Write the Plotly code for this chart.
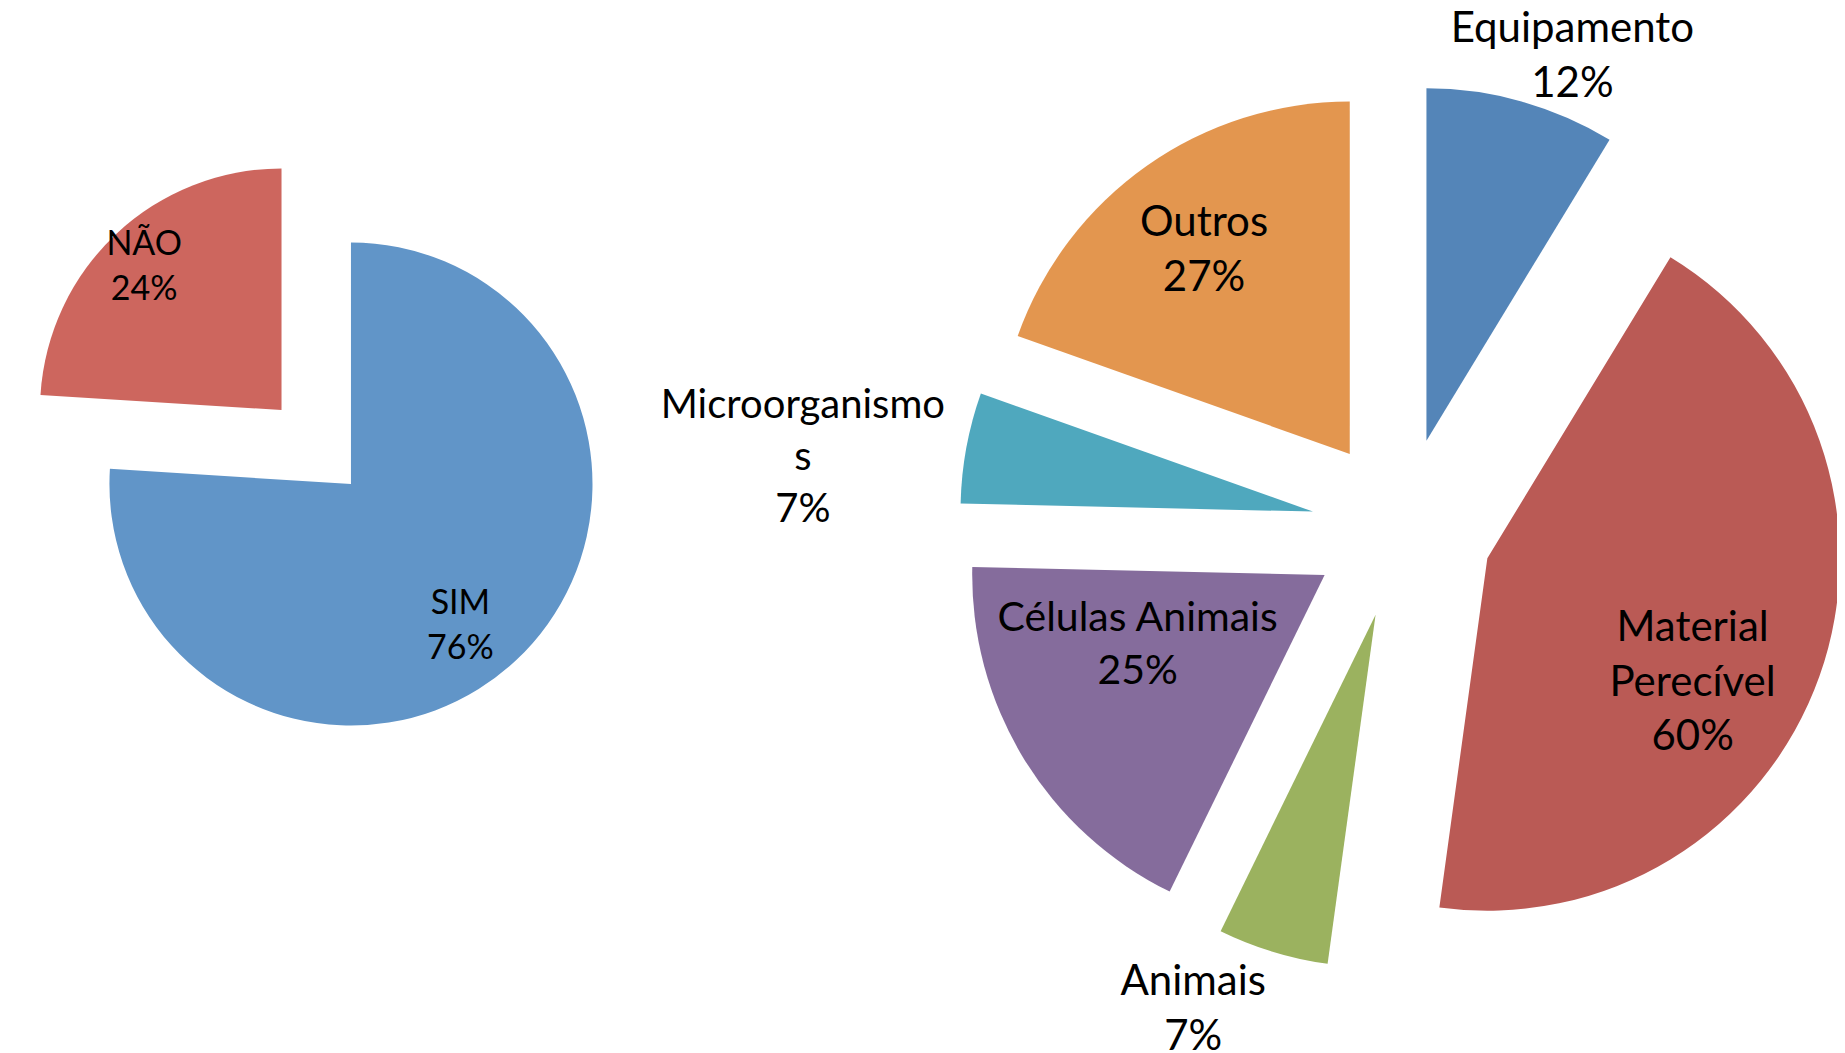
import plotly.graph_objects as go

# left pie
resposta_labels = ["SIM", "NÃO"]
resposta_values = [76, 24]
resposta_colors = ["#6195C8", "#CD665E"]

# right pie (clockwise from 12 o'clock)
tipo_labels = ["Equipamento", "Material Perecível", "Animais",
               "Células Animais", "Microorganismos", "Outros"]
tipo_text = ["Equipamento", "Material<br>Perecível", "Animais",
             "Células Animais", "Microorganismo<br>s", "Outros"]
tipo_values = [12, 60, 7, 25, 7, 27]
tipo_colors = ["#5485B8", "#BA5A55", "#9BB25F", "#856C9C", "#4FA8BE", "#E3964F"]

FONT = "Lato, 'Open Sans', sans-serif"
LEFT_DOMAIN = {"x": [0, 0.3734], "y": [0.181, 0.908]}
RIGHT_DOMAIN = {"x": [0.5177, 1], "y": [0.0526, 0.9522]}


def label_layer(labels, values, text, show, domain, rotation=0, hole=0,
                size=42, position="inside"):
    """Transparent copy of a pie that only carries one slice's label,
    used to place labels roughly where Excel puts them."""
    return go.Pie(
        labels=labels,
        values=values,
        text=text,
        sort=False,
        direction="clockwise",
        rotation=rotation,
        hole=hole,
        marker={"colors": ["rgba(0,0,0,0)"] * len(values), "line": {"width": 0}},
        texttemplate="%{text}<br>%{value}%",
        textposition=[position if lab == show else "none" for lab in labels],
        insidetextorientation="horizontal",
        textfont={"family": FONT, "size": size, "color": "black"},
        domain=domain,
        hoverinfo="none",
        showlegend=False,
    )


fig = go.Figure()

# left pie, NÃO exploded
fig.add_trace(go.Pie(
    labels=resposta_labels,
    values=resposta_values,
    sort=False,
    direction="clockwise",
    rotation=0,
    pull=[0, 0.42],
    marker={"colors": resposta_colors, "line": {"width": 0}},
    textposition="none",
    domain=LEFT_DOMAIN,
    showlegend=False,
))
fig.add_trace(label_layer(resposta_labels, resposta_values, resposta_labels, "SIM",
                          {"x": [0.0234, 0.35], "y": LEFT_DOMAIN["y"]},
                          rotation=5, hole=0.18, size=34))
# centred on the exploded NÃO slice
fig.add_trace(label_layer(resposta_labels, resposta_values, resposta_labels, "NÃO",
                          {"x": [0.0003, 0.2975], "y": [0.33, 0.90]},
                          hole=0.47, size=34))

# right pie, all slices exploded
fig.add_trace(go.Pie(
    labels=tipo_labels,
    values=tipo_values,
    sort=False,
    direction="clockwise",
    rotation=0,
    pull=0.257,
    marker={"colors": tipo_colors, "line": {"width": 0}},
    textposition="none",
    domain=RIGHT_DOMAIN,
    showlegend=False,
))
fig.add_trace(label_layer(tipo_labels, tipo_values, tipo_text, "Células Animais",
                          RIGHT_DOMAIN, rotation=8, size=41))
fig.add_trace(label_layer(tipo_labels, tipo_values, tipo_text, "Material Perecível",
                          RIGHT_DOMAIN, rotation=8, hole=0.48))
fig.add_trace(label_layer(tipo_labels, tipo_values, tipo_text, "Outros",
                          RIGHT_DOMAIN, hole=0.55))
fig.add_trace(label_layer(tipo_labels, tipo_values, tipo_text, "Equipamento",
                          {"x": [0.5286, 0.9891], "y": RIGHT_DOMAIN["y"]},
                          rotation=-12.6, position="outside"))
fig.add_trace(label_layer(tipo_labels, tipo_values, tipo_text, "Animais",
                          RIGHT_DOMAIN, rotation=-2.6, position="outside"))
fig.add_trace(label_layer(tipo_labels, tipo_values, tipo_text, "Microorganismos",
                          {"x": [0.5275, 0.9902], "y": RIGHT_DOMAIN["y"]},
                          rotation=-0.8, size=40, position="outside"))

fig.update_layout(
    width=1837,
    height=1045,
    autosize=False,
    margin={"l": 0, "r": 0, "t": 0, "b": 0, "pad": 0, "autoexpand": False},
    paper_bgcolor="white",
    plot_bgcolor="white",
    font={"family": FONT},
)

fig.write_html("out.html", config={"responsive": False})
